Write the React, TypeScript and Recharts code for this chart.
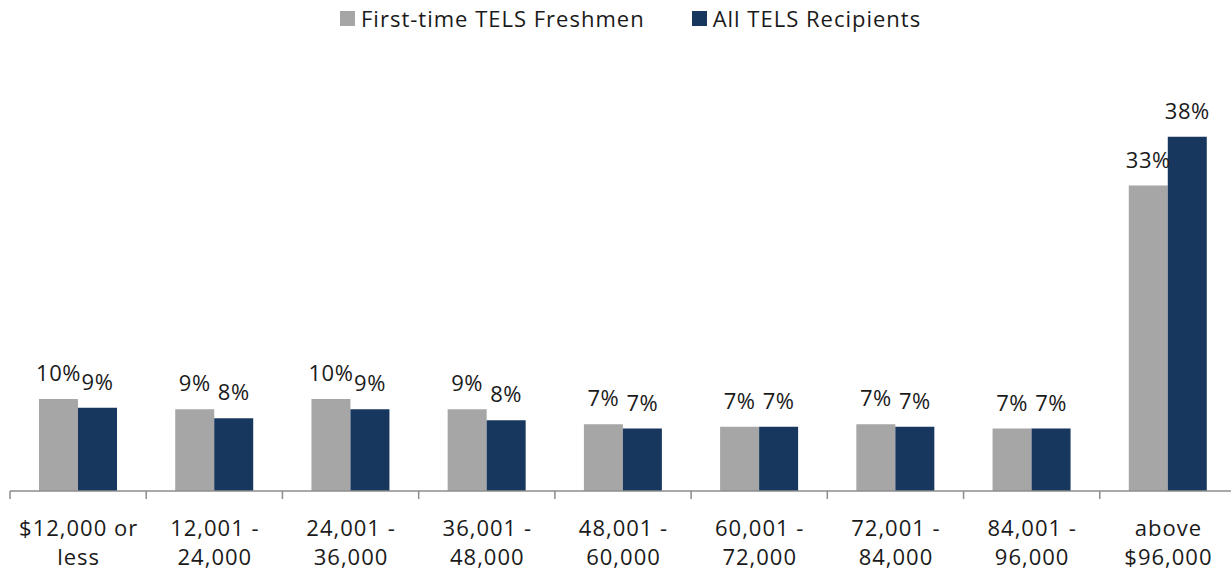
import React from "react";
import { BarChart, Bar, XAxis, YAxis, LabelList } from "recharts";

const categories = [
  "$12,000 or\nless",
  "12,001 -\n24,000",
  "24,001 -\n36,000",
  "36,001 -\n48,000",
  "48,001 -\n60,000",
  "60,001 -\n72,000",
  "72,001 -\n84,000",
  "84,001 -\n96,000",
  "above\n$96,000",
];
const freshmen = [9.87, 8.77, 9.87, 8.77, 7.16, 6.9, 7.16, 6.69, 32.76];
const allRecipients = [8.94, 7.8, 8.77, 7.59, 6.69, 6.9, 6.9, 6.69, 38.0];
const seriesNames = ["First-time TELS Freshmen", "All TELS Recipients"];
const seriesColors = ["#A6A6A6", "#17375E"];

const data = categories.map((c, i) => ({
  cat: c,
  fresh: freshmen[i],
  all: allRecipients[i],
}));

const FONT = "'Open Sans', 'Noto Sans', sans-serif";
const CHART_W = 1240;
const CHART_H = 571;
const MARGIN = { top: 118, right: 4, bottom: 0, left: 10 };
const BAND = (CHART_W - MARGIN.left - MARGIN.right) / categories.length;

const Tick = (props: any) => {
  const { x, y, payload } = props;
  const lines = String(payload.value).split("\n");
  const bx = x - BAND / 2;
  return (
    <g>
      <line x1={bx} x2={bx} y1={y} y2={y + 8} stroke="#8C8C8C" strokeWidth={1.5} />
      {lines.map((l, i) => (
        <text
          key={i}
          x={x + 0.5}
          y={y + 45 + i * 29}
          textAnchor="middle"
          fontFamily={FONT}
          fontSize={22}
          letterSpacing={1}
          fill="#1a1a1a"
        >
          {l}
        </text>
      ))}
    </g>
  );
};

const fmt = (v: any) => `${Math.round(Number(v))}%`;
const labelStyle = { fontSize: 22, fill: "#1a1a1a", fontFamily: FONT, letterSpacing: 0.5 };

export default function App() {
  return (
    <div
      style={{
        position: "absolute",
        left: 0,
        top: 0,
        width: 1231,
        height: 571,
        overflow: "hidden",
        background: "#fff",
      }}
    >
      <div
        style={{
          position: "absolute",
          left: 340,
          top: 3,
          display: "flex",
          alignItems: "center",
          fontFamily: FONT,
          fontSize: 22,
          letterSpacing: 1,
          color: "#1a1a1a",
          zIndex: 2,
          whiteSpace: "nowrap",
        }}
      >
        {seriesNames.map((n, i) => (
          <div
            key={n}
            style={{ display: "flex", alignItems: "center", marginRight: i === 0 ? 47 : 0 }}
          >
            <span
              style={{
                display: "inline-block",
                width: 15,
                height: 15,
                background: seriesColors[i],
                marginRight: 6,
              }}
            />
            <span>{n}</span>
          </div>
        ))}
      </div>
      <BarChart
        width={CHART_W}
        height={CHART_H}
        data={data}
        margin={MARGIN}
        barGap={0}
        barSize={39}
      >
        <XAxis
          dataKey="cat"
          interval={0}
          height={80}
          tickLine={false}
          tickSize={0}
          tickMargin={0}
          tick={<Tick />}
          axisLine={{ stroke: "#8C8C8C", strokeWidth: 1.5 }}
        />
        <YAxis hide domain={[0, 40]} />
        <Bar dataKey="fresh" name={seriesNames[0]} fill={seriesColors[0]} isAnimationActive={false}>
          <LabelList dataKey="fresh" position="top" offset={18} formatter={fmt} style={labelStyle} />
        </Bar>
        <Bar dataKey="all" name={seriesNames[1]} fill={seriesColors[1]} isAnimationActive={false}>
          <LabelList dataKey="all" position="top" offset={18} formatter={fmt} style={labelStyle} />
        </Bar>
      </BarChart>
    </div>
  );
}
